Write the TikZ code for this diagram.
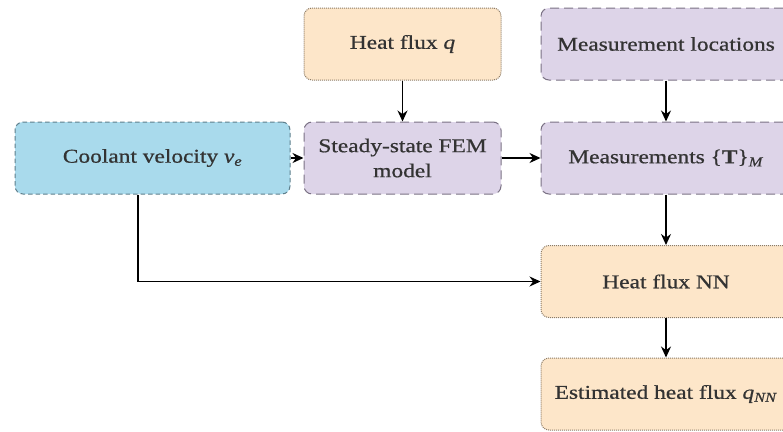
\documentclass[tikz,border=0pt]{standalone}
\usepackage{fontspec}
\setmainfont{Liberation Serif}[FakeStretch=1.2, FakeBold=0.7]
\usetikzlibrary{arrows.meta}

\definecolor{bluefill}{HTML}{A9DAEC}
\definecolor{blueedge}{HTML}{5E7F8C}
\definecolor{orangefill}{HTML}{FDE6C9}
\definecolor{orangeedge}{HTML}{8C7B66}
\definecolor{purplefill}{HTML}{DDD4E8}
\definecolor{purpleedge}{HTML}{7A7184}
\definecolor{labeltext}{HTML}{333333}

\newcommand{\sub}[1]{\textsubscript{\textit{#1}}}

\begin{document}
\begin{tikzpicture}[x=1pt,y=-1pt,
  box/.style={rounded corners=8pt, line width=1pt, minimum height=72pt,
    align=center, text=labeltext,
    font=\fontsize{19.5}{25}\selectfont, inner sep=2pt},
  inputbox/.style={box, fill=bluefill, draw=blueedge, dash pattern=on 4.5pt off 3pt},
  fluxbox/.style={box, fill=orangefill, draw=orangeedge, densely dotted},
  modelbox/.style={box, fill=purplefill, draw=purpleedge, dash pattern=on 9pt off 5pt},
  flow/.style={-{Stealth[length=11pt,width=10pt]}, line width=1.4pt, black}]
  \useasboundingbox (0,0) rectangle (783,431);

  % left column
  \node[inputbox, minimum width=275pt] (vel) at (152.5,158) {Coolant velocity \textit{v}\sub{e}};

  % middle column
  \node[fluxbox, minimum width=197pt] (q) at (402.5,44) {Heat flux \textit{q}};
  \node[modelbox, minimum width=197pt] (fem) at (402.5,158) {Steady-state FEM\\model};

  % right column
  \node[modelbox, minimum width=250pt] (locs) at (666,44) {Measurement locations};
  \node[modelbox, minimum width=250pt] (meas) at (666,158) {Measurements \{\textbf{T}\}\sub{M}};
  \node[fluxbox, minimum width=250pt] (nn) at (666,281.5) {Heat flux NN};
  \node[fluxbox, minimum width=250pt] (est) at (666,394) {Estimated heat flux \textit{q}\sub{NN}};

  % connectors
  \draw[flow] (q) -- (fem);
  \draw[flow] (vel) -- (fem);
  \draw[flow] (fem) -- (meas);
  \draw[flow] (locs) -- (meas);
  \draw[flow] (meas) -- (nn);
  \draw[flow] (nn) -- (est);
  \draw[flow] (vel.south -| 138,0) |- (nn.west);
\end{tikzpicture}
\end{document}
